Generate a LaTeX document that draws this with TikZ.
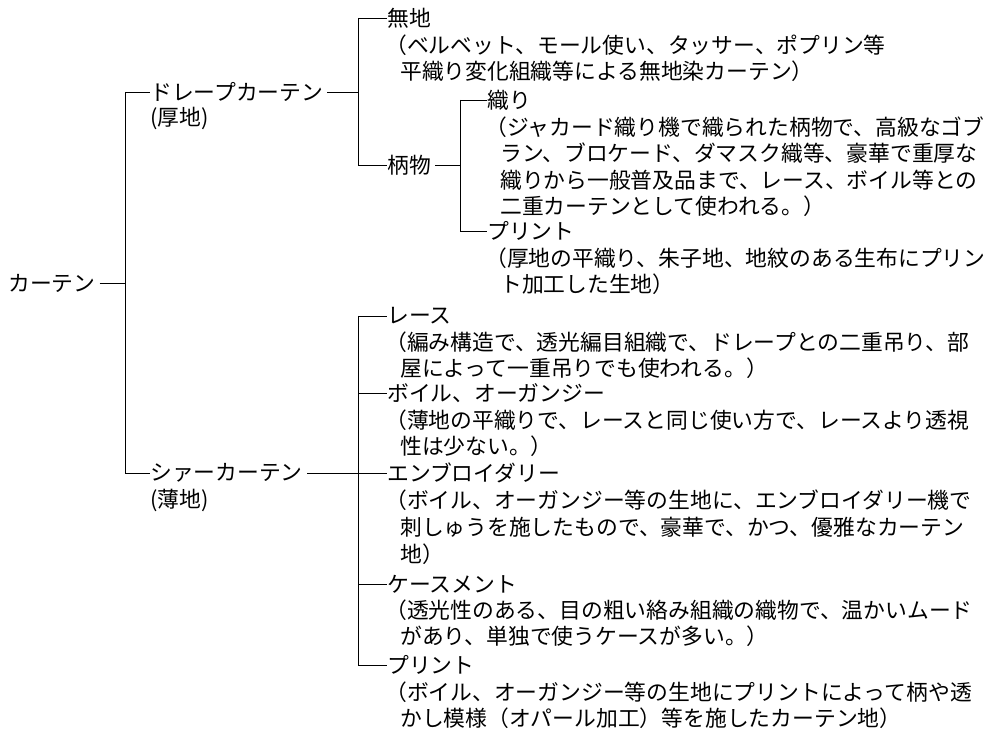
\documentclass[tikz,border=0pt]{standalone}
\usepackage{fontspec}
\setmainfont{Noto Sans CJK JP}
\begin{document}
\begin{tikzpicture}[x=0.3mm,y=-0.3mm,
  t/.style={anchor=west,inner sep=0pt,font=\fontsize{18.6}{22}\selectfont},
  ln/.style={line width=0.8pt}]
\useasboundingbox (0,0) rectangle (1000,735);
% root
\node[t] (root) at (8,283) {カーテン};
\node[t] (drape) at (150,92) {ドレープカーテン};
\node[t] at (150,118) {(厚地)};
\node[t] (sheer) at (150,473) {シァーカーテン};
\node[t] at (150,500) {(薄地)};
\draw[ln] (root.east)++(4,0) -- (125,283);
\draw[ln] (125,92) -- (125,473);
\draw[ln] (125,92) -- (drape.west);
\draw[ln] (125,473) -- (sheer.west);
% drape
\node[t] (muji) at (387,18) {無地};
\node[t] at (385,45) {（ベルベット、モール使い、タッサー、ポプリン等};
\node[t] at (400,71) {平織り変化組織等による無地染カーテン）};
\node[t] (gara) at (387,165) {柄物};
\draw[ln] (drape.east)++(4,0) -- (358,92);
\draw[ln] (358,18) -- (358,165);
\draw[ln] (358,18) -- (muji.west);
\draw[ln] (358,165) -- (gara.west);
\node[t] (ori) at (487,100) {織り};
\node[t] at (485,127) {（ジャカード織り機で織られた柄物で、高級なゴブ};
\node[t] at (500,153) {ラン、ブロケード、ダマスク織等、豪華で重厚な};
\node[t] at (500,180) {織りから一般普及品まで、レース、ボイル等との};
\node[t] at (500,206) {二重カーテンとして使われる。）};
\node[t] (pr1) at (487,231) {プリント};
\node[t] at (485,258) {（厚地の平織り、朱子地、地紋のある生布にプリン};
\node[t] at (500,284) {ト加工した生地）};
\draw[ln] (gara.east)++(4,0) -- (460,165);
\draw[ln] (460,100) -- (460,231);
\draw[ln] (460,100) -- (ori.west);
\draw[ln] (460,231) -- (pr1.west);
% sheer
\node[t] (lace) at (387,316) {レース};
\node[t] at (385,342) {（編み構造で、透光編目組織で、ドレープとの二重吊り、部};
\node[t] at (400,368) {屋によって一重吊りでも使われる。）};
\node[t] (voile) at (387,393) {ボイル、オーガンジー};
\node[t] at (385,420) {（薄地の平織りで、レースと同じ使い方で、レースより透視};
\node[t] at (400,446) {性は少ない。）};
\node[t] (emb) at (387,473) {エンブロイダリー};
\node[t] at (385,500) {（ボイル、オーガンジー等の生地に、エンブロイダリー機で};
\node[t] at (400,527) {刺しゅうを施したもので、豪華で、かつ、優雅なカーテン};
\node[t] at (400,554) {地）};
\node[t] (case) at (387,584) {ケースメント};
\node[t] at (385,610) {（透光性のある、目の粗い絡み組織の織物で、温かいムード};
\node[t] at (400,636) {があり、単独で使うケースが多い。）};
\node[t] (pr2) at (387,665) {プリント};
\node[t] at (385,692) {（ボイル、オーガンジー等の生地にプリントによって柄や透};
\node[t] at (400,718) {かし模様（オパール加工）等を施したカーテン地）};
\draw[ln] (sheer.east)++(4,0) -- (358,473);
\draw[ln] (358,316) -- (358,665);
\foreach \n/\y in {lace/316,voile/393,emb/473,case/584,pr2/665}
  \draw[ln] (358,\y) -- (\n.west);
\end{tikzpicture}
\end{document}
